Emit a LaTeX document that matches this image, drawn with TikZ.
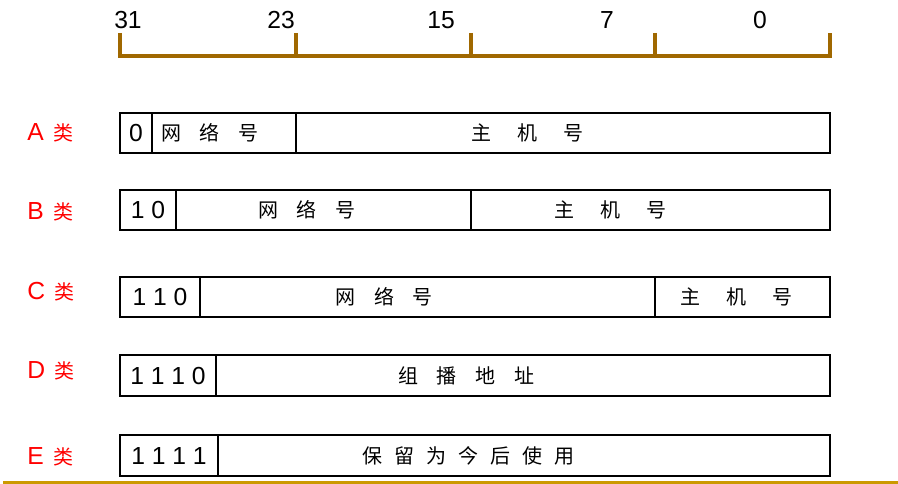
\documentclass[tikz,border=0pt]{standalone}
\usepackage{fontspec}
\setmainfont{Liberation Sans}
\newfontfamily\cjk{Noto Sans CJK SC}
\definecolor{rulebrown}{RGB}{160,104,0}
\definecolor{linegold}{RGB}{204,153,0}
\tikzset{
  field/.style={draw=black,line width=0.9pt},
  ruler/.style={rulebrown,line width=2.6pt},
  bits/.style={font=\fontsize{18.5}{20}\selectfont,inner sep=0pt},
  cn/.style={font=\cjk\fontsize{15}{18}\selectfont,inner sep=0pt},
  cls/.style={text=red,font=\fontsize{18.5}{20}\selectfont,anchor=west,inner sep=0pt}
}
\newcommand{\lei}{\hspace{7pt}{\cjk\fontsize{15}{18}\selectfont 类}}
\begin{document}
\begin{tikzpicture}[x=0.75pt,y=-0.75pt]
  \useasboundingbox (0,0) rectangle (898,484);
  % bit ruler
  \draw[ruler] (120,33)--(120,56)--(830,56)--(830,33);
  \foreach \t in {296,471,655} \draw[ruler] (\t,33)--(\t,56);
  \foreach \x/\b in {128/31,281/23,441/15,607/7,760/0}
    \node[bits] (bit\b) at (\x,20) {\b};
  % class A
  \draw[field] (120,113) rectangle (830,153);
  \draw[field] (152,113)--(152,153) (296,113)--(296,153);
  \node[cls] (clsA) at (27,133) {A\lei};
  \node[bits] (prefA) at (136,133) {0};
  \node[cn] (netA) at (210,133) {网\hspace{14pt}络\hspace{14pt}号};
  \node[cn] (hostA) at (527,133) {主\hspace{19.5pt}机\hspace{19.5pt}号};
  % class B
  \draw[field] (120,190) rectangle (830,230);
  \draw[field] (176,190)--(176,230) (471,190)--(471,230);
  \node[cls] (clsB) at (27,212) {B\lei};
  \node[bits] (prefB) at (148,210) {1 0};
  \node[cn] (netB) at (307,210) {网\hspace{14pt}络\hspace{14pt}号};
  \node[cn] (hostB) at (610,210) {主\hspace{19.5pt}机\hspace{19.5pt}号};
  % class C
  \draw[field] (120,277) rectangle (830,317);
  \draw[field] (200,277)--(200,317) (655,277)--(655,317);
  \node[cls] (clsC) at (27,292) {C\lei};
  \node[bits] (prefC) at (160,297) {1 1 0};
  \node[cn] (netC) at (384,297) {网\hspace{14pt}络\hspace{14pt}号};
  \node[cn] (hostC) at (736,297) {主\hspace{19.5pt}机\hspace{19.5pt}号};
  % class D
  \draw[field] (120,355) rectangle (830,396);
  \draw[field] (216,355)--(216,396);
  \node[cls] (clsD) at (27,371) {D\lei};
  \node[bits] (prefD) at (168,376) {1 1 1 0};
  \node[cn] (addrD) at (466,376) {组\hspace{14pt}播\hspace{14pt}地\hspace{14pt}址};
  % class E
  \draw[field] (120,435) rectangle (830,476);
  \draw[field] (218,435)--(218,476);
  \node[cls] (clsE) at (27,457) {E\lei};
  \node[bits] (prefE) at (169,456) {1 1 1 1};
  \node[cn] (resE) at (468,456) {保\hspace{9pt}留\hspace{9pt}为\hspace{9pt}今\hspace{9pt}后\hspace{9pt}使\hspace{9pt}用};
  % bottom rule
  \draw[linegold,line width=2.25pt] (3,482)--(898,482);
\end{tikzpicture}
\end{document}
